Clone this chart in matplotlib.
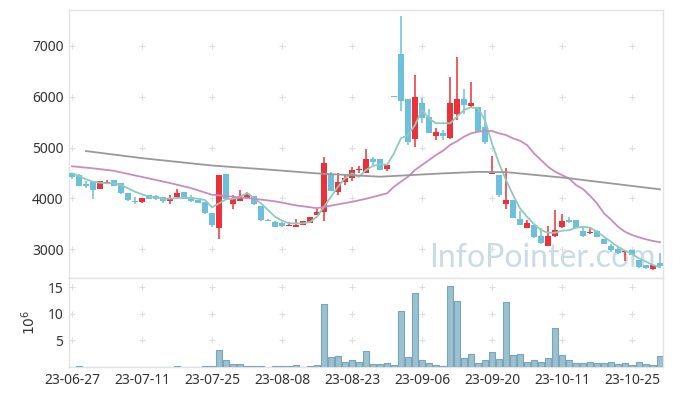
import numpy as np
import pandas as pd
import matplotlib
matplotlib.use("Agg")
import matplotlib.pyplot as plt

plt.rcParams['font.family'] = ['Noto Sans', 'DejaVu Sans']

# trading days 2023-06-27 .. 2023-10-31 (KRX holidays removed)
holidays = ['2023-08-15', '2023-09-28', '2023-09-29', '2023-10-02', '2023-10-03', '2023-10-09']
dates = pd.bdate_range('2023-06-27', '2023-10-31', freq='C', holidays=holidays)

opens = [4490, 4460, 4290, 4320, 4190, 4300, 4360, 4300, 4100, 3945,
         3926, 4060, 4040, 4020, 3946, 4025, 4115, 4020, 3965, 3920,
         3710, 3420, 4480, 3895, 3950, 4000, 4045, 3850, 3570, 3530,
         3510, 3460, 3435, 3480, 3520, 3680, 3730, 4470, 4125, 4330,
         4395, 4560, 4505, 4775, 4775, 4585, 6000, 6850, 5960, 5175,
         5875, 5605, 5225, 5285, 5180, 5655, 5955, 5820, 5790, 5395,
         4480, 4460, 3880, 3965, 3590, 3420, 3470, 3255, 3060, 3260,
         3425, 3570, 3570, 3355, 3320, 3360, 3190, 3060, 2995, 2945,
         2980, 2785, 2685, 2600, 2720]
highs = [4500, 4470, 4340, 4330, 4345, 4355, 4365, 4305, 4105, 4020,
         4005, 4065, 4070, 4025, 4060, 4180, 4120, 4060, 3970, 3925,
         3715, 4460, 4485, 4060, 4170, 4115, 4050, 3855, 3600, 3560,
         3530, 3540, 3590, 3550, 3640, 3790, 4820, 4510, 4490, 4480,
         4620, 4640, 4965, 4820, 4780, 4655, 6000, 7590, 5965, 6420,
         5970, 5750, 5380, 5345, 6385, 6775, 6145, 6285, 5800, 5740,
         4830, 4465, 4590, 3970, 3755, 3570, 3475, 3415, 3450, 3770,
         3690, 3625, 3575, 3430, 3430, 3365, 3195, 3100, 3040, 2975,
         2985, 2790, 2690, 2685, 2925]
lows = [4370, 4240, 4210, 3990, 4185, 4285, 4245, 4090, 3950, 3880,
        3910, 3980, 3975, 3900, 3880, 4000, 3985, 3930, 3905, 3690,
        3440, 3190, 3970, 3780, 3945, 3990, 3875, 3560, 3550, 3435,
        3440, 3450, 3430, 3475, 3515, 3670, 3560, 4135, 4060, 4260,
        4340, 4490, 4500, 4655, 4555, 4530, 6000, 5725, 5050, 5015,
        5475, 5285, 5145, 5145, 5175, 5540, 5655, 5770, 5305, 5070,
        4475, 4020, 3780, 3610, 3475, 3415, 3225, 3105, 3055, 3240,
        3420, 3520, 3405, 3230, 3290, 3240, 3090, 2950, 2910, 2770,
        2875, 2635, 2615, 2595, 2620]
closes = [4410, 4250, 4250, 4160, 4340, 4320, 4250, 4110, 3970, 3935,
          4000, 3985, 3980, 3950, 4010, 4110, 3990, 3940, 3912, 3700,
          3480, 4460, 3990, 3980, 4025, 4065, 3880, 3565, 3560, 3440,
          3455, 3470, 3480, 3545, 3630, 3730, 4690, 4140, 4320, 4390,
          4555, 4580, 4775, 4715, 4560, 4650, 6000, 5920, 5110, 5995,
          5590, 5290, 5305, 5230, 5870, 5955, 5845, 5870, 5310, 5110,
          4500, 4065, 3965, 3615, 3480, 3510, 3230, 3110, 3255, 3375,
          3545, 3525, 3410, 3265, 3335, 3245, 3095, 2985, 2915, 2965,
          2880, 2640, 2620, 2680, 2665]

# volume, millions of shares
volume = [0.01, 0.15, 0.01, 0.01, 0.01, 0.01, 0.01, 0.01, 0.01, 0.01,
          0.01, 0.01, 0.01, 0.01, 0.01, 0.15, 0.01, 0.01, 0.01, 0.1,
          0.1, 3.1, 1.25, 0.5, 0.5, 0.2, 0.2, 0.2, 0.01, 0.2,
          0.2, 0.2, 0.35, 0.01, 0.2, 0.35, 11.75, 1.8, 2.05, 0.95,
          1.3, 0.9, 3.0, 0.5, 0.5, 0.7, 0.3, 10.5, 1.8, 13.9,
          1.3, 0.7, 0.3, 0.1, 15.2, 12.4, 1.6, 2.4, 0.7, 1.3,
          2.75, 1.45, 12.1, 2.2, 2.4, 0.9, 1.25, 0.9, 1.6, 7.25,
          2.2, 1.25, 0.7, 0.7, 0.9, 0.7, 0.7, 0.9, 0.5, 0.7,
          0.3, 0.9, 0.5, 0.3, 2.0]

ma5 = [4490, 4438, 4373, 4326, 4306, 4294, 4294, 4261, 4196, 4129,
       4078, 4031, 4011, 3991, 3991, 4005, 4011, 4003, 3991, 3965,
       3821, 3900, 3979, 3991, 4018, 4109, 3999, 3900, 3768, 3637,
       3558, 3506, 3506, 3506, 3532, 3637, 3833, 4031, 4228, 4393,
       4491, 4424, 4557, 4636, 4669, 4660, 4885, 5181, 5246, 5443,
       5738, 5574, 5476, 5480, 5476, 5607, 5738, 5791, 5772, 5541,
       5082, 4688, 4360, 4064, 3802, 3637, 3493, 3374, 3321, 3321,
       3361, 3370, 3420, 3440, 3420, 3341, 3242, 3144, 3045, 2967,
       2901, 2816, 2750, 2685, 2639]

# 20-day line, read at these trading-day indices
ma20_idx = [0, 3, 6, 10, 14, 17, 20, 23, 26, 29, 32, 35, 38, 40, 42, 45, 46, 47, 48, 49,
            50, 51, 52, 53, 54, 55, 56, 57, 58, 59, 60, 61, 62, 63, 64, 65, 66, 67, 68, 69,
            70, 71, 72, 73, 74, 75, 76, 77, 78, 79, 80, 81, 82, 83, 84]
ma20 = [4630, 4590, 4540, 4420, 4300, 4200, 4070, 4030, 3990, 3940, 3860, 3805, 3880, 3930, 3990, 4097, 4228, 4326, 4425, 4557,
        4655, 4753, 4852, 4936, 5049, 5125, 5213, 5279, 5311, 5325, 5325, 5279, 5246, 5181, 5133, 5049, 4885, 4753, 4621, 4523,
        4458, 4390, 4261, 4180, 4050, 3900, 3700, 3580, 3440, 3340, 3276, 3230, 3191, 3158, 3135]

# long (120-day) line, read at these indices
ma120_idx = [2, 10, 20, 28, 35, 44, 53, 58, 62, 71, 73, 84]
ma120 = [4930, 4790, 4645, 4565, 4490, 4425, 4490, 4520, 4515, 4395, 4360, 4176]

RED = '#ec3238'
BLUE = '#6cc0dc'

fig = plt.figure(figsize=(6.73, 3.96), dpi=100)
ax = fig.add_axes([69 / 673, 1 - 278 / 396, 594 / 673, 268 / 396])
axv = fig.add_axes([69 / 673, 1 - 367 / 396, 594 / 673, 89 / 396], sharex=ax)

x = np.arange(len(dates))
o = np.array(opens, dtype=float)
c = np.array(closes, dtype=float)
colors = [RED if cc > oo else BLUE for oo, cc in zip(o, c)]

body_h = np.maximum(np.abs(c - o), 18)
ax.vlines(x, lows, highs, colors=colors, linewidth=1.1, zorder=2)
ax.bar(x, body_h, bottom=np.minimum(o, c), width=0.74, color=colors, linewidth=0, zorder=3)

ax.plot(x, ma5, color='#8ccbbf', lw=1.3, zorder=4)
ax.plot(ma20_idx, ma20, color='#c88cbf', lw=1.3, zorder=4)
ax.plot(ma120_idx, ma120, color='#999999', lw=1.3, zorder=4)

axv.bar(x, volume, width=0.86, color='#9bc1d1', edgecolor='#77a5bb', linewidth=0.8, zorder=3)

xticks = x[::10]
ax.set_xlim(-0.43, 84.43)
ax.set_ylim(2429, 7709)
axv.set_ylim(0, 16.69)

yt = [3000, 4000, 5000, 6000, 7000]
ax.set_yticks(yt)
ax.set_yticklabels([str(v) for v in yt])
axv.set_yticks([5, 10, 15])
axv.set_xticks(xticks)
axv.set_xticklabels([d.strftime('%y-%m-%d') for d in dates[xticks]])
ax.tick_params(axis='x', labelbottom=False)

for a, ys in ((ax, yt), (axv, [5, 10, 15])):
    for xv in xticks:
        for yv in ys:
            a.plot(xv, yv, marker='+', color='#dedede', ms=5, mew=0.8, zorder=1)
    a.tick_params(length=0, labelsize=10, labelcolor='#333333', pad=4)
    for s in a.spines.values():
        s.set_color('#e3e3e3')
        s.set_linewidth(1.0)

axv.set_ylabel(r'$10^6$', fontsize=10, color='#333333', labelpad=6)

ax.text(0.988, 0.04, 'InfoPointer.com', transform=ax.transAxes, ha='right', va='baseline',
        fontsize=23, family='Lato', color='#c9dbe6', zorder=0.5)

fig.savefig('out.png', dpi=100)
